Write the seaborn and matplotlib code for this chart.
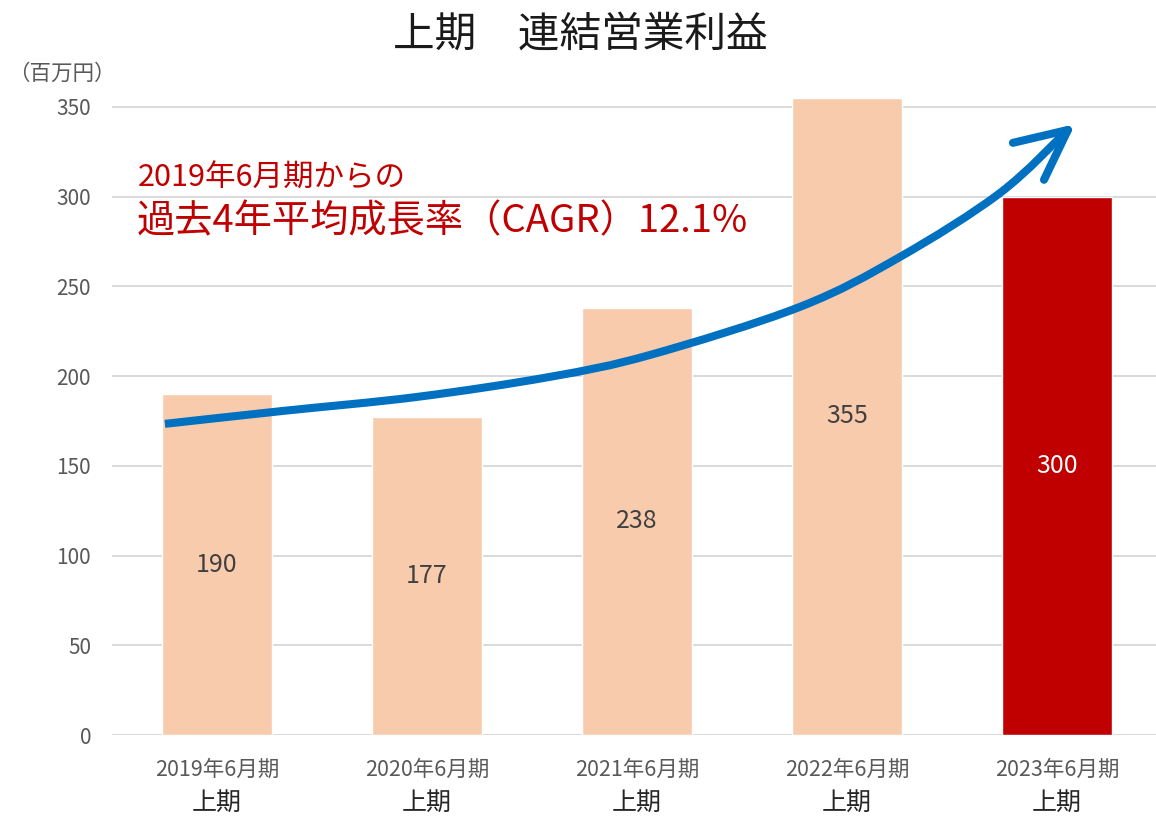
import matplotlib
matplotlib.use("Agg")
import matplotlib.pyplot as plt
from matplotlib.path import Path
from matplotlib.patches import PathPatch
import seaborn as sns
import pandas as pd

# ---- data ----
categories = ["2019年6月期", "2020年6月期", "2021年6月期", "2022年6月期", "2023年6月期"]
sub_labels = ["上期", "上期", "上期", "上期", "上期"]
values = [190, 177, 238, 355, 300]
bar_colors = ["#F8CBAD", "#F8CBAD", "#F8CBAD", "#F8CBAD", "#C00000"]
label_colors = ["#404040", "#404040", "#404040", "#404040", "#FFFFFF"]
yticks = [0, 50, 100, 150, 200, 250, 300, 350]
title = "上期　連結営業利益"
unit_label = "（百万円）"
note_line1 = "2019年6月期からの"
note_line2 = "過去4年平均成長率（CAGR）12.1%"

# decorative trend arrow path (category index, value units)
arrow_x = [-0.248, 0.314, 0.952, 1.586, 2.062, 2.776, 3.252, 3.729, 4.052]
arrow_y = [173.4, 180.6, 188.4, 199.6, 211.8, 238.6, 266.4, 302.1, 337.2]
arrow_wing_x = [3.790, 3.938]
arrow_wing_y = [330.0, 309.4]

sns.set_theme(style="white")
plt.rcParams["font.family"] = ["Noto Sans CJK JP", "DejaVu Sans"]

fig = plt.figure(figsize=(11.56, 8.18), dpi=100)
ax = fig.add_axes([112 / 1156, 83 / 818, (1162 - 112) / 1156, (735 - 89) / 818])

df = pd.DataFrame({"cat": categories, "val": values})
sns.barplot(data=df, x="cat", y="val", hue="cat", palette=bar_colors,
            width=0.52, legend=False, ax=ax, zorder=2, saturation=1)

ax.set_ylim(0, 360)
ax.set_xlim(-0.5, 4.5)
ax.set_yticks(yticks)
ax.yaxis.grid(True, color="#D9D9D9", linewidth=1.4, zorder=0)
ax.set_axisbelow(True)
for s in ax.spines.values():
    s.set_visible(False)
ax.tick_params(axis="y", length=0, pad=15, labelsize=15, labelcolor="#595959")
ax.tick_params(axis="x", length=0, labelbottom=False)
ax.set_xlabel("")
ax.set_ylabel("")

# bar value labels
for i, (v, c) in enumerate(zip(values, label_colors)):
    ax.text(i, v / 2, str(v), ha="center", va="center", fontsize=18, color=c, zorder=3)

# two-line category labels
for i, (c1, c2) in enumerate(zip(categories, sub_labels)):
    ax.annotate(c1, xy=(i, 0), xycoords=("data", "axes fraction"),
                xytext=(0, -25), textcoords="offset points",
                ha="center", va="center", fontsize=15.5, color="#595959")
    ax.annotate(c2, xy=(i, 0), xycoords=("data", "axes fraction"),
                xytext=(0, -49), textcoords="offset points",
                ha="center", va="center", fontsize=18, color="#262626")

# trend arrow: smooth Catmull-Rom curve through the path points
blue = "#0070C0"
pts = list(zip(arrow_x, arrow_y))
verts = [pts[0]]
codes = [Path.MOVETO]
n = len(pts)
for i in range(n - 1):
    p0 = pts[i - 1] if i > 0 else pts[i]
    p1 = pts[i]
    p2 = pts[i + 1]
    p3 = pts[i + 2] if i + 2 < n else pts[i + 1]
    c1 = (p1[0] + (p2[0] - p0[0]) / 6, p1[1] + (p2[1] - p0[1]) / 6)
    c2 = (p2[0] - (p3[0] - p1[0]) / 6, p2[1] - (p3[1] - p1[1]) / 6)
    verts += [c1, c2, p2]
    codes += [Path.CURVE4, Path.CURVE4, Path.CURVE4]
curve = PathPatch(Path(verts, codes), facecolor="none", edgecolor=blue,
                  linewidth=5.8, capstyle="butt", joinstyle="round",
                  zorder=4, clip_on=False)
ax.add_patch(curve)
for wx, wy in zip(arrow_wing_x, arrow_wing_y):
    ax.plot([wx, arrow_x[-1]], [wy, arrow_y[-1]], color=blue, linewidth=5.8,
            solid_capstyle="round", zorder=4, clip_on=False)

# annotation text
ax.text(-0.376, 310.5, note_line1, ha="left", va="center", fontsize=22,
        color="#C00000", zorder=5)
ax.text(-0.385, 286, note_line2, ha="left", va="center", fontsize=27.5,
        color="#C00000", zorder=5)

# title and unit
fig.text(580 / 1156, 1 - 35 / 818, title, ha="center", va="center",
         fontsize=30, color="#1a1a1a")
fig.text(62 / 1156, 1 - 74 / 818, unit_label, ha="center", va="center",
         fontsize=15.5, color="#595959")

fig.savefig("out.png", dpi=100)
